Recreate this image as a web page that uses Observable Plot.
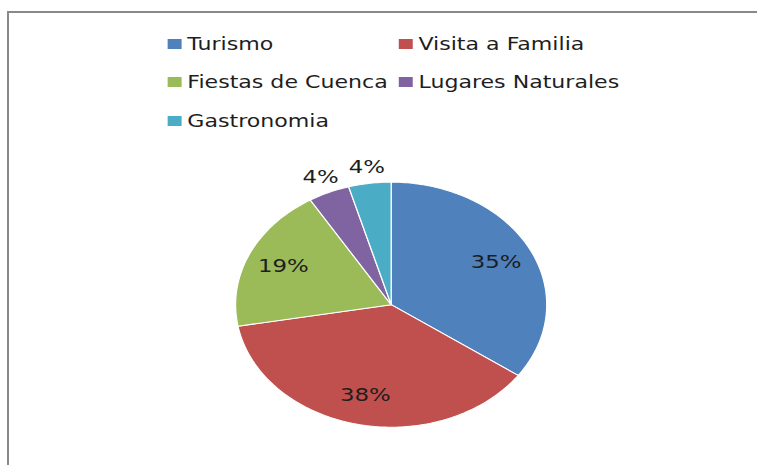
<!DOCTYPE html>
<html><head><meta charset="utf-8">
<script src="https://cdn.jsdelivr.net/npm/d3@7"></script>
<script src="https://cdn.jsdelivr.net/npm/@observablehq/plot@0.6"></script>
<style>
html,body{margin:0;padding:0;background:#fff;overflow:hidden;width:757px;height:465px}
#frame{position:absolute;left:7px;top:11px;width:800px;height:500px;border-top:2px solid #898989;border-left:2px solid #898989;box-sizing:border-box}
#wrap{position:absolute;left:0;top:0;width:596px;transform:scaleX(1.27);transform-origin:0 0}
</style></head><body>
<div id="frame"></div>
<div id="wrap"></div>
<script>
const categories = ["Turismo", "Visita a Familia", "Fiestas de Cuenca", "Lugares Naturales", "Gastronomia"];
const values = [34.8, 37.4, 19.1, 4.3, 4.4];
const labels = ["35%", "38%", "19%", "4%", "4%"];
const colors = ["#4F81BD", "#C0504D", "#9BBB59", "#8064A2", "#4BACC6"];

const W = 596, H = 325;
const cx = 307.5, cy = 164.2, R = 122.5;

const rows = categories.map((c, i) => ({cat: c, value: values[i], label: labels[i]}));
const arcs = d3.pie().sort(null).value(d => d.value)(rows);

const pts = [];
arcs.forEach(a => {
  const n = Math.max(2, Math.ceil((a.endAngle - a.startAngle) / (Math.PI / 180)));
  pts.push({cat: a.data.cat, x: 0, y: 0});
  for (let k = 0; k <= n; k++) {
    const t = a.startAngle + (a.endAngle - a.startAngle) * k / n;
    pts.push({cat: a.data.cat, x: Math.sin(t), y: Math.cos(t)});
  }
});
const labelPts = arcs.map(a => {
  const m = (a.startAngle + a.endAngle) / 2;
  const k = a.data.value < 10 ? 1.135 : 0.76;
  return {x: Math.sin(m) * k, y: Math.cos(m) * k, label: a.data.label};
});

const chart = Plot.plot({
  width: W, height: H, margin: 0,
  x: {domain: [-1, 1], range: [cx - R, cx + R], axis: null},
  y: {domain: [-1, 1], range: [cy + R, cy - R], axis: null},
  color: {domain: categories, range: colors},
  style: {background: "transparent", overflow: "visible"},
  marks: [
    Plot.line(pts, {x: "x", y: "y", z: "cat", fill: "cat", stroke: "white", strokeWidth: 1, curve: "linear-closed"}),
    Plot.text(labelPts, {x: "x", y: "y", text: "label", fontSize: 18, fontFamily: "DejaVu Sans", fill: "#1e1e1e"})
  ]
});

const leg = chart.legend("color", {swatchWidth: 11, swatchHeight: 10});
leg.style.cssText += "margin:24.5px 0 0 131.5px;width:380px;font-family:'DejaVu Sans';font-size:17.4px;color:#1e1e1e;display:flex;flex-wrap:wrap;align-items:center;min-height:0";
leg.querySelectorAll("span").forEach(s => {
  s.style.width = "182px"; s.style.height = "38.5px"; s.style.margin = "0";
  s.style.display = "inline-flex"; s.style.alignItems = "center";
});
leg.querySelectorAll("span > svg").forEach(s => { s.style.marginRight = "5px"; });

const wrap = document.getElementById("wrap");
wrap.appendChild(leg);
wrap.appendChild(chart);
</script>
</body></html>
